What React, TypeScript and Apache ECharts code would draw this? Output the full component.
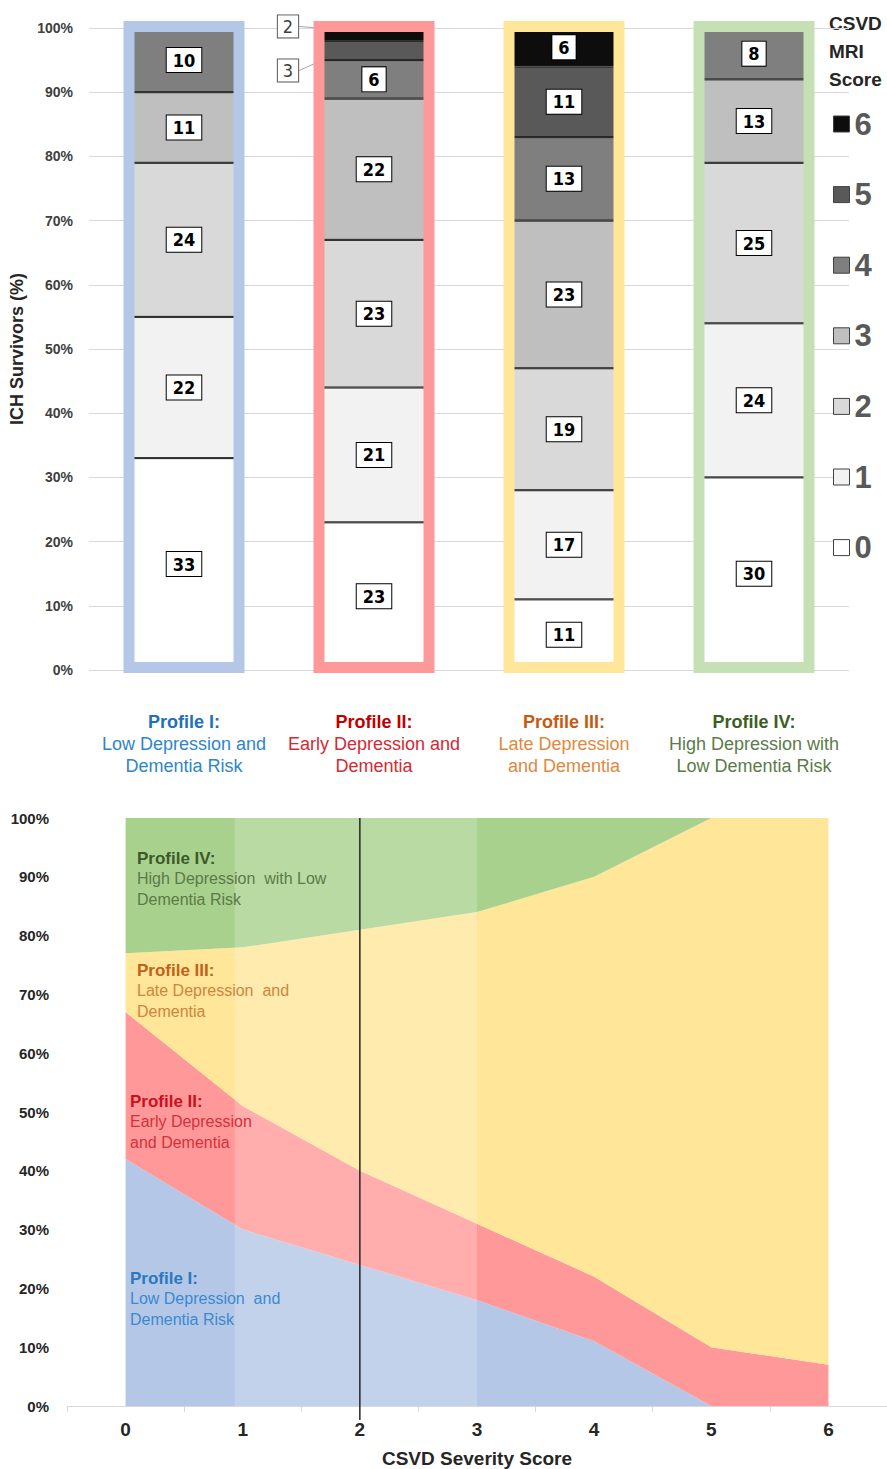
import React, { useEffect, useRef } from "react";
import * as echarts from "echarts";

// ---------- Top chart: CSVD MRI score distribution (%) within each profile ----------
const profiles = ["Profile I", "Profile II", "Profile III", "Profile IV"];
const profileTitles = ["Profile I:", "Profile II:", "Profile III:", "Profile IV:"];
const profileLine1 = ["Low Depression and", "Early Depression and", "Late Depression", "High Depression with"];
const profileLine2 = ["Dementia Risk", "Dementia", "and Dementia", "Low Dementia Risk"];
const mriScores = ["0", "1", "2", "3", "4", "5", "6"];
const legendOrder = ["6", "5", "4", "3", "2", "1", "0"];
const score0 = [33, 23, 11, 30];
const score1 = [22, 21, 17, 24];
const score2 = [24, 23, 19, 25];
const score3 = [11, 22, 23, 13];
const score4 = [10, 6, 13, 8];
const score5 = [0, 3, 11, 0];
const score6 = [0, 2, 6, 0];
const topTicks = [0, 10, 20, 30, 40, 50, 60, 70, 80, 90, 100];

// ---------- Bottom chart: profile share (%) by CSVD severity score ----------
const severityScores = ["0", "1", "2", "3", "4", "5", "6"];
const profileIShare = [42, 30, 24, 18, 11, 0, 0];
const profileIIShare = [25, 21, 16, 13, 11, 10, 7];
const profileIIIShare = [10, 27, 41, 53, 68, 90, 93];
const profileIVShare = [23, 22, 19, 16, 10, 0, 0];
const highlightFrom = 1;
const highlightTo = 3;
const referenceScore = 2;

const FONT = '"Liberation Sans", Arial, sans-serif';
const NARROW = '"Liberation Sans Narrow", "Arial Narrow", "DejaVu Sans Condensed", sans-serif';

const barColors = ["#ffffff", "#f2f2f2", "#d9d9d9", "#bfbfbf", "#7f7f7f", "#595959", "#0d0d0d"];
const boxColors = ["#b4c7e7", "#ff9999", "#ffe699", "#c5e0b4"];
const areaColors = ["#b4c7e7", "#ff9999", "#ffe699", "#a9d18e"];
const titleColors = ["#2170b8", "#c00000", "#c55a11", "#3b5e22"];
const subColors = ["#2e86c8", "#d42a32", "#e0893c", "#5b7b48"];

export default function App() {
  const ref = useRef<HTMLDivElement>(null);

  useEffect(() => {
    if (!ref.current) return;
    const chart = echarts.init(ref.current, undefined, { renderer: "svg" });

    const scoreData = [score0, score1, score2, score3, score4, score5, score6];

    const rich: Record<string, any> = {};
    profiles.forEach((_, i) => {
      rich["t" + i] = { fontSize: 18, fontWeight: "bold", color: titleColors[i], lineHeight: 22, fontFamily: FONT };
      rich["s" + i] = { fontSize: 18, color: subColors[i], lineHeight: 22, fontFamily: FONT };
    });

    const barSeries = scoreData.map((arr, s) => ({
      name: mriScores[s],
      type: "bar",
      stack: "mri",
      xAxisIndex: 0,
      yAxisIndex: 0,
      barWidth: 102,
      z: 2,
      itemStyle: { color: barColors[s], borderColor: "#1a1a1a", borderWidth: 1 },
      label: {
        show: true,
        position: "inside",
        color: "#000",
        backgroundColor: "#fff",
        borderColor: "#000",
        borderWidth: 1,
        padding: [3, 6],
        fontSize: 18,
        lineHeight: 18,
        fontWeight: "bold",
        fontFamily: NARROW,
      },
      labelLine: { show: false },
      labelLayout:
        s >= 5
          ? (p: any) => (p.dataIndex === 1 ? { dx: -86, dy: s === 6 ? -8 : 20 } : {})
          : undefined,
      data: arr.map((v, i) => {
        if (v === 0) return null;
        if (s >= 5 && i === 1) {
          return {
            value: v,
            label: { fontWeight: "normal", color: "#404040", borderColor: "#595959", padding: [2, 5] },
            labelLine: { show: true, lineStyle: { color: "#a6a6a6", width: 1 } },
          };
        }
        return v;
      }),
    }));

    const areaSeries = [profileIShare, profileIIShare, profileIIIShare, profileIVShare].map((d, i) => ({
      name: profiles[i] + " share",
      type: "line",
      stack: "share",
      xAxisIndex: 1,
      yAxisIndex: 1,
      data: d,
      symbol: "none",
      silent: true,
      z: 2,
      lineStyle: { width: 0 },
      areaStyle: { color: areaColors[i], opacity: 1 },
    }));

    const annot = (x: number, y: number, title: string, l1: string, l2: string, tc: string, bc: string) => [
      { type: "text", x, y, z: 20, style: { text: title, fill: tc, font: `bold 17px ${FONT}`, verticalAlign: "middle" } },
      { type: "text", x, y: y + 20.5, z: 20, style: { text: l1, fill: bc, font: `16px ${FONT}`, verticalAlign: "middle" } },
      { type: "text", x, y: y + 41, z: 20, style: { text: l2, fill: bc, font: `16px ${FONT}`, verticalAlign: "middle" } },
    ];

    chart.setOption({
      animation: false,
      textStyle: { fontFamily: FONT },
      grid: [
        { left: 89, top: 28, width: 760, height: 642 },
        { left: 67, top: 818, width: 822, height: 588 },
      ],
      legend: {
        data: legendOrder,
        orient: "vertical",
        left: 833,
        top: 108,
        padding: 0,
        itemWidth: 16,
        itemHeight: 16,
        itemGap: 38.6,
        selectedMode: false,
        icon: "rect",
        itemStyle: { borderColor: "#404040", borderWidth: 1 },
        textStyle: { fontSize: 31, fontWeight: "bold", color: "#595959", lineHeight: 32, fontFamily: FONT },
      },
      xAxis: [
        {
          type: "category",
          gridIndex: 0,
          data: profiles,
          axisLine: { show: false },
          axisTick: { show: false },
          axisLabel: {
            interval: 0,
            margin: 41,
            formatter: (_v: string, i: number) =>
              `{t${i}|${profileTitles[i]}}\n{s${i}|${profileLine1[i]}}\n{s${i}|${profileLine2[i]}}`,
            rich,
          },
        },
        {
          type: "category",
          gridIndex: 1,
          data: severityScores,
          boundaryGap: true,
          axisLine: { lineStyle: { color: "#d9d9d9", width: 1 } },
          axisTick: { show: true, length: 6, lineStyle: { color: "#d9d9d9" } },
          axisLabel: { fontSize: 19, fontWeight: "bold", color: "#262626", margin: 14 },
          name: "CSVD Severity Score",
          nameLocation: "middle",
          nameGap: 43,
          nameTextStyle: { fontSize: 19, fontWeight: "bold", color: "#262626" },
        },
      ],
      yAxis: [
        {
          type: "value",
          gridIndex: 0,
          min: topTicks[0],
          max: topTicks[topTicks.length - 1],
          interval: topTicks[1] - topTicks[0],
          axisLine: { show: false },
          axisTick: { show: false },
          axisLabel: { formatter: "{value}%", fontSize: 14, fontWeight: "bold", color: "#404040", margin: 16 },
          splitLine: { lineStyle: { color: "#d9d9d9", width: 1 } },
          name: "ICH Survivors (%)",
          nameLocation: "middle",
          nameGap: 58,
          nameTextStyle: { fontSize: 18, fontWeight: "bold", color: "#262626" },
        },
        {
          type: "value",
          gridIndex: 1,
          min: 0,
          max: 100,
          interval: 10,
          axisLine: { show: false },
          axisTick: { show: false },
          splitLine: { show: false },
          axisLabel: { formatter: "{value}%", fontSize: 15, fontWeight: "bold", color: "#262626", margin: 18 },
        },
      ],
      series: [
        ...barSeries,
        {
          type: "custom",
          name: "profile boxes",
          xAxisIndex: 0,
          yAxisIndex: 0,
          z: 5,
          silent: true,
          data: profiles.map((_, i) => [i, 100]),
          renderItem: (params: any, api: any) => {
            const i = api.value(0);
            const top = api.coord([i, 100]);
            const bot = api.coord([i, 0]);
            const w = 110;
            const y0 = top[1] - 1.5;
            const y1 = bot[1] - 2.5;
            return {
              type: "rect",
              shape: { x: top[0] - w / 2, y: y0, width: w, height: y1 - y0 },
              style: { fill: "none", stroke: boxColors[params.dataIndex], lineWidth: 11 },
            };
          },
        },
        ...areaSeries,
        {
          type: "custom",
          name: "highlight",
          xAxisIndex: 1,
          yAxisIndex: 1,
          z: 4,
          silent: true,
          data: [[highlightFrom, highlightTo, referenceScore]],
          renderItem: (_params: any, api: any) => {
            const a = api.coord([api.value(0), 100]);
            const b = api.coord([api.value(1), 0]);
            const c = api.coord([api.value(2), 100]);
            const d = api.coord([api.value(2), 0]);
            return {
              type: "group",
              children: [
                {
                  type: "rect",
                  shape: { x: a[0] - 8, y: a[1], width: b[0] - a[0] + 8, height: b[1] - a[1] },
                  style: { fill: "rgba(255,255,255,0.2)" },
                },
                {
                  type: "line",
                  shape: { x1: c[0], y1: c[1], x2: d[0], y2: d[1] + 14 },
                  style: { stroke: "#262626", lineWidth: 1.5 },
                },
              ],
            };
          },
        },
      ],
      graphic: [
        {
          type: "text",
          x: 829,
          y: 9,
          style: { text: "CSVD\nMRI\nScore", fill: "#262626", font: `bold 19px ${FONT}`, lineHeight: 28 },
        },
        ...annot(137, 858, "Profile IV:", "High Depression  with Low", "Dementia Risk", "#3c5a28", "#5a7a48"),
        ...annot(137, 970, "Profile III:", "Late Depression  and", "Dementia", "#c0621c", "#d0843e"),
        ...annot(130, 1101, "Profile II:", "Early Depression", "and Dementia", "#cc1020", "#d63039"),
        ...annot(130, 1278, "Profile I:", "Low Depression  and", "Dementia Risk", "#2a78c0", "#3a8ad0"),
      ],
    });

    return () => chart.dispose();
  }, []);

  return (
    <div
      ref={ref}
      style={{ position: "absolute", left: 0, top: 0, width: 887, height: 1469, background: "#fff" }}
    />
  );
}
